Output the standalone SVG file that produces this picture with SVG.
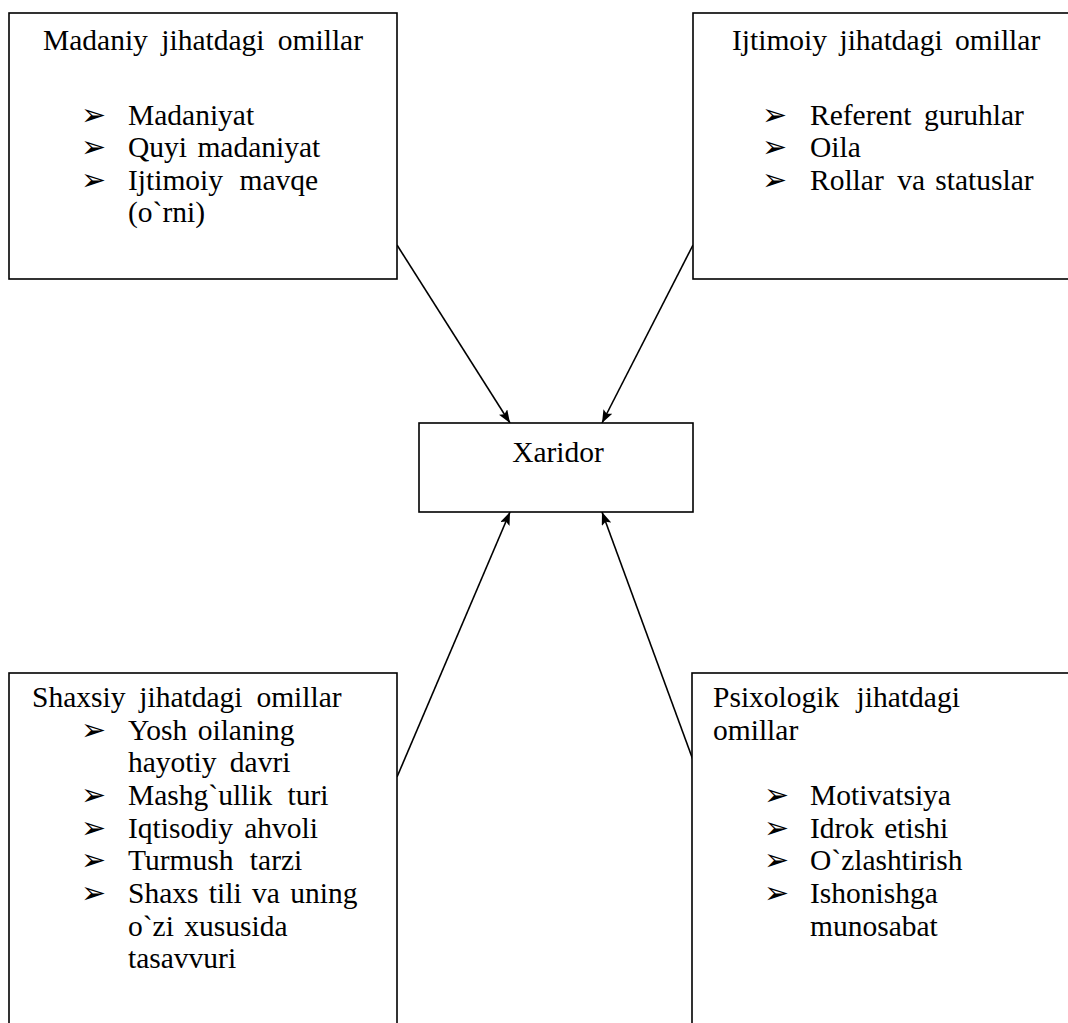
<svg xmlns="http://www.w3.org/2000/svg" width="1068" height="1023" viewBox="0 0 1068 1023">
  <defs>
    <marker id="arrow" viewBox="0 0 10 10" refX="10" refY="5" markerWidth="13" markerHeight="10" markerUnits="userSpaceOnUse" orient="auto" preserveAspectRatio="none">
      <path d="M0,0 L10,5 L0,10 L2,5 Z" fill="#000"/>
    </marker>
    <style>
      .box { fill: #fff; stroke: #000; stroke-width: 1.6; }
      .t { font-family: "Liberation Serif", "Times New Roman", Times, "DejaVu Serif", serif; font-size: 29.5px; fill: #000; }
      .n { word-spacing: 3px; }
      .b { font-family: "DejaVu Sans", sans-serif; font-size: 30px; fill: #000; }
      .conn { stroke: #000; stroke-width: 1.6; fill: none; }
    </style>
  </defs>
  <rect width="1068" height="1023" fill="#fff"/>

  <g id="connectors">
    <line class="conn" x1="397" y1="245" x2="510" y2="423" marker-end="url(#arrow)"/>
    <line class="conn" x1="693" y1="245" x2="602" y2="423" marker-end="url(#arrow)"/>
    <line class="conn" x1="397" y1="777" x2="510" y2="512" marker-end="url(#arrow)"/>
    <line class="conn" x1="693" y1="760" x2="602" y2="512" marker-end="url(#arrow)"/>
  </g>

  <g id="madaniy">
    <rect class="box" x="9" y="13" width="388" height="266"/>
    <text class="t" x="43" y="50" style="word-spacing:6px">Madaniy jihatdagi omillar</text>
    <text class="b" x="81" y="125">➢</text>
    <text class="t n" x="128" y="125">Madaniyat</text>
    <text class="b" x="81" y="157">➢</text>
    <text class="t n" x="128" y="157">Quyi madaniyat</text>
    <text class="b" x="81" y="190">➢</text>
    <text class="t" x="128" y="190" style="word-spacing:9px">Ijtimoiy mavqe</text>
    <text class="t n" x="128" y="222">(o`rni)</text>
  </g>

  <g id="ijtimoiy">
    <rect class="box" x="693" y="13" width="400" height="266"/>
    <text class="t" x="732" y="50" style="word-spacing:5px">Ijtimoiy jihatdagi omillar</text>
    <text class="b" x="762" y="125">➢</text>
    <text class="t" x="810" y="125" style="word-spacing:5px">Referent guruhlar</text>
    <text class="b" x="762" y="157">➢</text>
    <text class="t n" x="810" y="157">Oila</text>
    <text class="b" x="762" y="190">➢</text>
    <text class="t n" x="810" y="190">Rollar <tspan dx="3">va statuslar</tspan></text>
  </g>

  <g id="xaridor">
    <rect class="box" x="419" y="423" width="274" height="89"/>
    <text class="t" x="558" y="462" text-anchor="middle">Xaridor</text>
  </g>

  <g id="shaxsiy">
    <rect class="box" x="9" y="673" width="388" height="400"/>
    <text class="t" x="32" y="707" style="word-spacing:6.5px">Shaxsiy jihatdagi omillar</text>
    <text class="b" x="81" y="740">➢</text>
    <text class="t n" x="128" y="740">Yosh oilaning</text>
    <text class="t" x="128" y="772" style="word-spacing:6px">hayotiy davri</text>
    <text class="b" x="81" y="805">➢</text>
    <text class="t" x="128" y="805" style="word-spacing:8px">Mashg`ullik turi</text>
    <text class="b" x="81" y="838">➢</text>
    <text class="t" x="128" y="838" style="word-spacing:4px">Iqtisodiy ahvoli</text>
    <text class="b" x="81" y="870">➢</text>
    <text class="t" x="128" y="870" style="word-spacing:9px">Turmush tarzi</text>
    <text class="b" x="81" y="903">➢</text>
    <text class="t n" x="128" y="903">Shaxs tili va uning</text>
    <text class="t n" x="128" y="936">o`zi xususida</text>
    <text class="t n" x="128" y="968">tasavvuri</text>
  </g>

  <g id="psixologik">
    <rect class="box" x="692" y="673" width="400" height="400"/>
    <text class="t" x="713" y="707" style="word-spacing:10px">Psixologik jihatdagi</text>
    <text class="t" x="713" y="740">omillar</text>
    <text class="b" x="764" y="805">➢</text>
    <text class="t" x="810" y="805">Motivatsiya</text>
    <text class="b" x="764" y="838">➢</text>
    <text class="t n" x="810" y="838">Idrok etishi</text>
    <text class="b" x="764" y="870">➢</text>
    <text class="t" x="810" y="870">O`zlashtirish</text>
    <text class="b" x="764" y="903">➢</text>
    <text class="t" x="810" y="903">Ishonishga</text>
    <text class="t" x="810" y="936">munosabat</text>
  </g>
</svg>
